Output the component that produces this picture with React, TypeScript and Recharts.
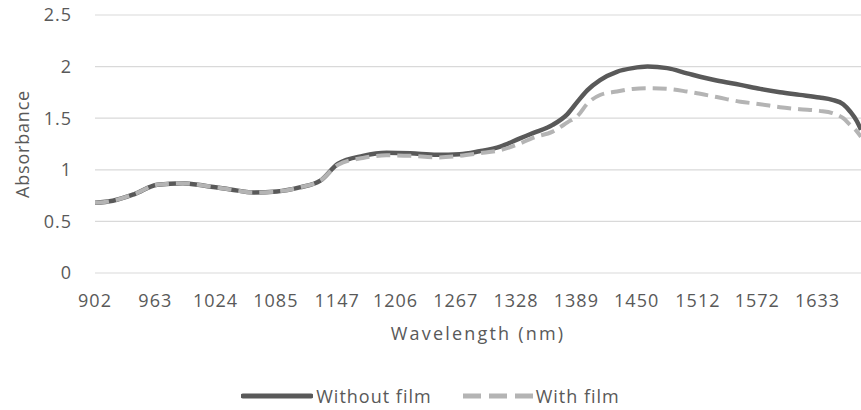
import React from 'react';
import { LineChart, Line, XAxis, YAxis, CartesianGrid, Legend, Label } from 'recharts';

const wavelengths = [902, 920, 942, 965, 991, 1013, 1039, 1062, 1086, 1109, 1130, 1148, 1173, 1197, 1221, 1248, 1271, 1291, 1312, 1332, 1345, 1365, 1380, 1391, 1400, 1413, 1430, 1446, 1461, 1481, 1501, 1531, 1555, 1575, 1595, 1615, 1635, 1648, 1659, 1666, 1673, 1677];

const withoutFilm = [0.68, 0.70, 0.765, 0.855, 0.87, 0.845, 0.81, 0.78, 0.79, 0.83, 0.895, 1.06, 1.135, 1.165, 1.16, 1.145, 1.15, 1.18, 1.225, 1.305, 1.355, 1.435, 1.54, 1.67, 1.77, 1.87, 1.95, 1.985, 2.0, 1.985, 1.935, 1.865, 1.823, 1.784, 1.752, 1.726, 1.70, 1.678, 1.636, 1.565, 1.468, 1.387];

const withFilm = [0.68, 0.70, 0.765, 0.855, 0.87, 0.845, 0.81, 0.78, 0.79, 0.83, 0.895, 1.05, 1.115, 1.14, 1.135, 1.12, 1.135, 1.16, 1.19, 1.255, 1.31, 1.37, 1.46, 1.53, 1.64, 1.725, 1.758, 1.784, 1.79, 1.784, 1.758, 1.705, 1.66, 1.636, 1.607, 1.587, 1.571, 1.55, 1.50, 1.435, 1.37, 1.32];

const xTicks = [902, 963, 1024, 1085, 1147, 1206, 1267, 1328, 1389, 1450, 1512, 1572, 1633];
const yTicks = [0, 0.5, 1, 1.5, 2, 2.5];

const seriesNames = ['Without film', 'With film'];

const data = wavelengths.map((w, i) => ({ w, without: withoutFilm[i], with: withFilm[i] }));

const FONT = '"Open Sans", sans-serif';
const TEXT = '#595959';

const renderLegend = () => (
  <div style={{ display: 'flex', justifyContent: 'center', alignItems: 'center', fontFamily: FONT, fontSize: 18, color: TEXT, letterSpacing: 1 }}>
    <svg width={72} height={12} style={{ display: 'block' }}>
      <line x1={2} y1={6} x2={70} y2={6} stroke="#595959" strokeWidth={5} strokeLinecap="round" />
    </svg>
    <span style={{ marginLeft: 3 }}>{seriesNames[0]}</span>
    <svg width={70} height={12} style={{ display: 'block', marginLeft: 31 }}>
      <line x1={0} y1={6} x2={70} y2={6} stroke="#b4b4b4" strokeWidth={5} strokeDasharray="18 8" />
    </svg>
    <span style={{ marginLeft: 3 }}>{seriesNames[1]}</span>
  </div>
);

const YLabel = (props: any) => {
  const vb = props.viewBox || { x: 0, y: 0, width: 0, height: 0 };
  const cx = vb.x + 22;
  const cy = vb.y + vb.height / 2;
  return (
    <text x={cx} y={cy} transform={`rotate(-90 ${cx} ${cy})`} textAnchor="middle" dominantBaseline="central" fill={TEXT} fontFamily={FONT} fontSize={18} letterSpacing={0.8}>
      Absorbance
    </text>
  );
};

export default function App() {
  return (
    <div style={{ position: 'absolute', left: 0, top: 0, background: '#fff' }}>
      <LineChart width={861} height={410} data={data} margin={{ top: 15, right: 0, left: 0, bottom: 0 }}>
        <CartesianGrid vertical={false} stroke="#d9d9d9" strokeWidth={1.2} />
        <XAxis
          dataKey="w"
          type="number"
          domain={[902, 1677]}
          ticks={xTicks}
          interval={0}
          allowDataOverflow
          height={137}
          axisLine={false}
          tickLine={false}
          tickSize={0}
          tickMargin={21}
          tick={{ fill: TEXT, fontFamily: FONT, fontSize: 18, letterSpacing: 1 }}
        >
          <Label value="Wavelength (nm)" position="insideTop" offset={54} fill={TEXT} fontFamily={FONT} fontSize={18} style={{ letterSpacing: 2.2 }} />
        </XAxis>
        <YAxis
          domain={[0, 2.5]}
          ticks={yTicks}
          width={95}
          axisLine={false}
          tickLine={false}
          tickSize={0}
          tickMargin={23}
          tick={{ fill: TEXT, fontFamily: FONT, fontSize: 18, letterSpacing: 1 }}
        >
          <Label content={<YLabel />} />
        </YAxis>
        <Legend verticalAlign="middle" content={renderLegend} wrapperStyle={{ top: 384, left: 0, width: 861 }} />
        <Line type="monotone" dataKey="without" name={seriesNames[0]} stroke="#595959" strokeWidth={4.5} dot={false} activeDot={false} isAnimationActive={false} />
        <Line type="monotone" dataKey="with" name={seriesNames[1]} stroke="#b4b4b4" strokeWidth={4} strokeDasharray="14 7" dot={false} activeDot={false} isAnimationActive={false} />
      </LineChart>
    </div>
  );
}
